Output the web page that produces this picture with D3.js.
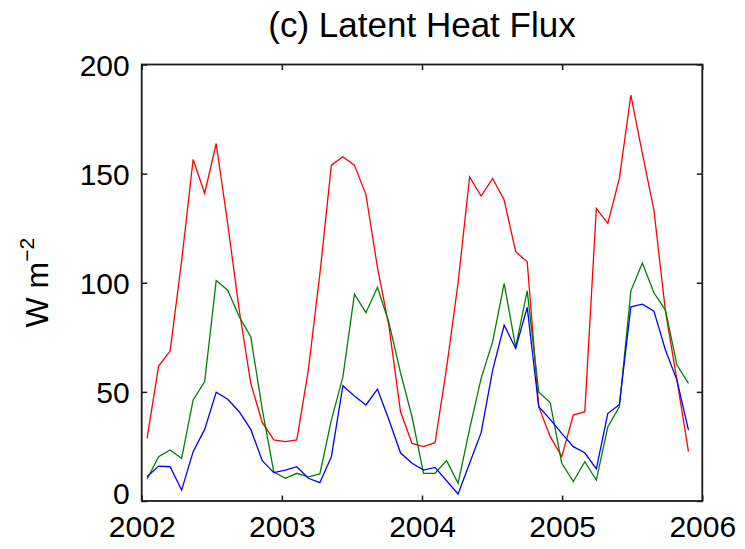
<!DOCTYPE html>
<html>
<head>
<meta charset="utf-8">
<script src="https://cdn.jsdelivr.net/npm/d3@7"></script>
<style>
  html, body { margin: 0; padding: 0; background: #fff; }
  svg { display: block; }
  text { font-family: "Liberation Sans", Arial, Helvetica, sans-serif; fill: #000; }
</style>
</head>
<body>
<svg id="chart" width="745" height="549"></svg>
<script>
// ---- data (monthly, Jan 2002 - Dec 2005) ----
const dayOffsets = [14, 44, 74, 104, 134, 164, 194, 224, 254, 284, 314, 344,
                    374, 404, 434, 464, 494, 524, 554, 584, 614, 644, 674, 704,
                    734, 764, 794, 824, 854, 884, 914, 944, 974, 1004, 1034, 1064,
                    1094, 1124, 1154, 1184, 1214, 1244, 1274, 1304, 1334, 1364, 1394, 1424];
const redSeries = [28.7, 61.8, 68.7, 110, 156.5, 141, 163.8, 127, 87.5, 53.9, 36, 28,
                   27.2, 28, 60, 104, 153.9, 157.7, 153.9, 140.4, 107, 80, 41, 26.4,
                   24.9, 26.7, 61, 100, 148.5, 139.7, 147.8, 137.9, 114.2, 109.6, 43.2, 29.5,
                   20.3, 39.4, 40.9, 134, 127.2, 147.8, 186, 159.2, 133.3, 87, 55.4, 22.6];
const greenSeries = [10, 20.3, 23.4, 19.5, 46.3, 54.7, 101, 96.6, 84.4, 75.3, 42, 13.4,
                     10.4, 12.7, 11.1, 12.4, 37.1, 56.9, 94.8, 86.3, 97.9, 81.7, 58.8, 38.6,
                     12.7, 12.7, 18.5, 8.1, 33, 56.2, 73, 99.7, 70.4, 96.3, 50, 45,
                     17.3, 8.9, 18, 9.6, 34, 43.2, 96.3, 109, 95.4, 87.5, 62.3, 53.9];
const blueSeries = [11.1, 16, 15.7, 5, 22.6, 32.8, 49.8, 46.6, 40.9, 32.8, 18.5, 13,
                    14.2, 15.7, 10.4, 8.4, 20.3, 52.8, 48.1, 44, 51.3, 37.1, 22.1, 17.3,
                    14.2, 15.4, 9.3, 3.2, 17.3, 31.3, 60, 80.6, 69.9, 88.7, 43.2, 37.4,
                    31, 24.9, 22.1, 14.7, 40.2, 44.1, 89, 90.2, 87, 69.2, 55.4, 32.5];
const xTicks = [2002, 2003, 2004, 2005, 2006];
const yTicks = [0, 50, 100, 150, 200];
const titleText = "(c) Latent Heat Flux";

// ---- layout ----
const svg = d3.select("#chart");
const mLeft = 141.7, mRight = 702.3, mTop = 64.5, mBottom = 501;
const x = d3.scaleLinear().domain([2002, 2006]).range([mLeft, mRight]);
const y = d3.scaleLinear().domain([0, 200]).range([mBottom, mTop]);
const tYear = d => 2002 + d / 365;

const series = [
  { values: redSeries, color: "#ff0000" },
  { values: greenSeries, color: "#008000" },
  { values: blueSeries, color: "#0000ff" }
];

const line = d3.line().x((d, i) => x(tYear(dayOffsets[i]))).y(d => y(d));
svg.append("g").selectAll("path").data(series).join("path")
  .attr("d", s => line(s.values))
  .attr("fill", "none")
  .attr("stroke", s => s.color)
  .attr("stroke-width", 1.3)
  .attr("stroke-linejoin", "miter");

// ---- axes (inward ticks, box) ----
const tickLen = 5.5;
const axisColor = "#1a1a1a";
const fs = 30;

const gB = svg.append("g").attr("transform", `translate(0,${mBottom})`)
  .call(d3.axisBottom(x).tickValues(xTicks).tickFormat(d3.format("d")).tickSizeInner(-tickLen).tickSizeOuter(0).tickPadding(14));
const gT = svg.append("g").attr("transform", `translate(0,${mTop})`)
  .call(d3.axisTop(x).tickValues(xTicks).tickFormat("").tickSizeInner(-tickLen).tickSizeOuter(0));
const gL = svg.append("g").attr("transform", `translate(${mLeft},0)`)
  .call(d3.axisLeft(y).tickValues(yTicks).tickFormat(d3.format("d")).tickSizeInner(-tickLen).tickSizeOuter(0).tickPadding(12));
const gR = svg.append("g").attr("transform", `translate(${mRight},0)`)
  .call(d3.axisRight(y).tickValues(yTicks).tickFormat("").tickSizeInner(-tickLen).tickSizeOuter(0));

[gB, gT, gL, gR].forEach(g => {
  g.select(".domain").remove();
  g.selectAll(".tick line").attr("stroke", axisColor).attr("stroke-width", 1.5);
  g.selectAll(".tick text").attr("font-size", fs).attr("font-family", '"Liberation Sans", Arial, sans-serif').attr("fill", "#000");
});
gB.selectAll(".tick text").attr("dy", "0.74em");
gL.selectAll(".tick text").attr("dy", d => d === 0 ? "0.08em" : "0.35em");

svg.append("rect")
  .attr("x", mLeft).attr("y", mTop)
  .attr("width", mRight - mLeft).attr("height", mBottom - mTop)
  .attr("fill", "none").attr("stroke", axisColor).attr("stroke-width", 1.8);

// ---- title ----
svg.append("text")
  .attr("x", (mLeft + mRight) / 2).attr("y", 37)
  .attr("text-anchor", "middle")
  .attr("font-size", 35)
  .text(titleText);

// ---- y label ----
const yl = svg.append("text")
  .attr("transform", `translate(48,${(mTop + mBottom) / 2}) rotate(-90)`)
  .attr("text-anchor", "middle")
  .attr("font-size", 32);
yl.append("tspan").text("W m");
yl.append("tspan").attr("font-size", 21).attr("dy", -14).text("\u22122");
</script>
</body>
</html>
